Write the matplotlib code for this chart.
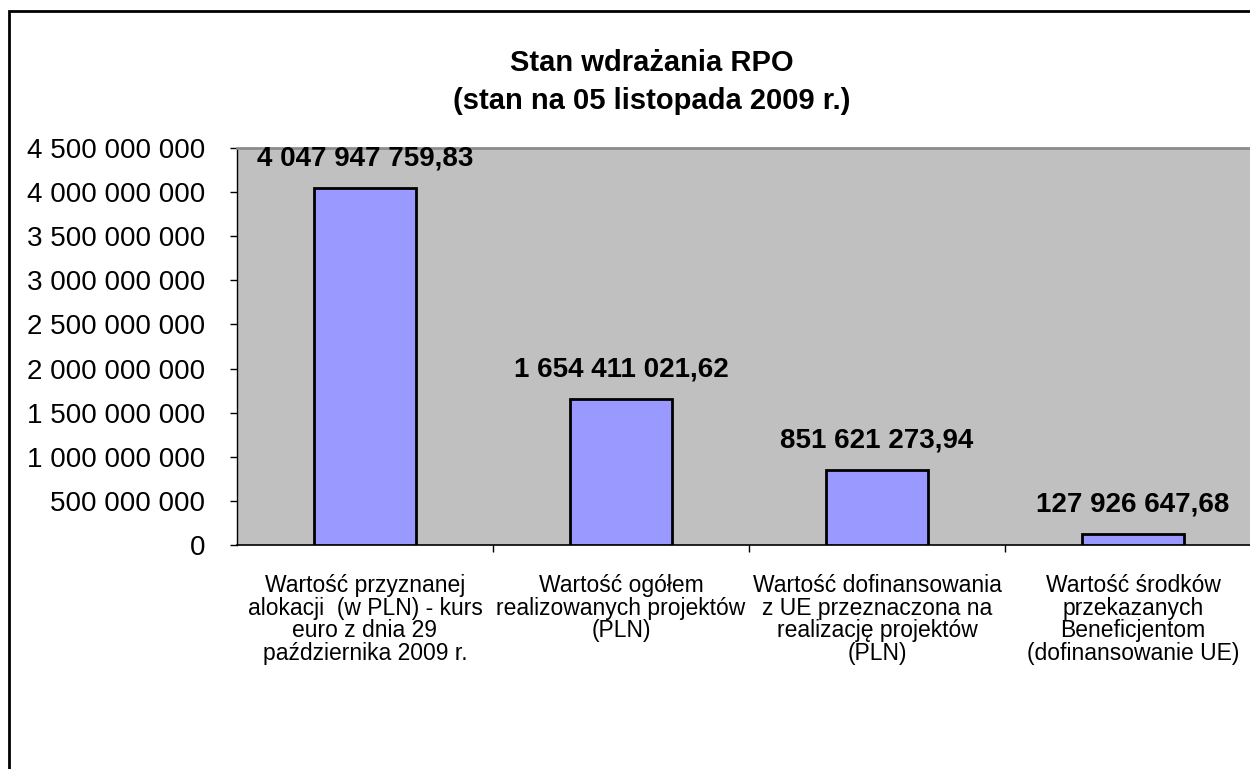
import matplotlib.pyplot as plt
from matplotlib.patches import Rectangle

plt.rcParams['font.family'] = ['Liberation Sans', 'DejaVu Sans']

# data
categories = ['Wartość przyznanej\nalokacji  (w PLN) - kurs\neuro z dnia 29\npaździernika 2009 r.',
              'Wartość ogółem\nrealizowanych projektów\n(PLN)',
              'Wartość dofinansowania\nz UE przeznaczona na\nrealizację projektów\n(PLN)',
              'Wartość środków\nprzekazanych\nBeneficjentom\n(dofinansowanie UE)']
values = [4047947759.83, 1654411021.62, 851621273.94, 127926647.68]
yticks = [0, 500000000, 1000000000, 1500000000, 2000000000, 2500000000,
          3000000000, 3500000000, 4000000000, 4500000000]
title_lines = ['Stan wdrażania RPO', '(stan na 05 listopada 2009 r.)']


def fmt_int(v):
    return '{:,}'.format(int(v)).replace(',', ' ')


def fmt_val(v):
    s = '{:,.2f}'.format(v)
    return s.replace(',', ' ').replace('.', ',')


W, H = 1250, 769
fig = plt.figure(figsize=(W / 100, H / 100), dpi=100)

# outer chart border
fig.patches.append(Rectangle((9 / W, -0.1), 1.2, 1 - 11 / H + 0.1, transform=fig.transFigure,
                             fill=False, edgecolor='black', linewidth=2))

ax = fig.add_axes([237 / W, 1 - 545 / H, 1024 / W, 397 / H])
ax.set_facecolor('#C0C0C0')

x = range(len(values))
ax.bar(x, values, width=0.4, color='#9999FF', edgecolor='black', linewidth=2, zorder=3)

for i, v in enumerate(values):
    ax.annotate(fmt_val(v), (i, v), xytext=(0, 21), textcoords='offset points',
                ha='center', va='center', fontsize=20, fontweight='bold')

ax.set_xlim(-0.5, 3.5)
ax.set_ylim(0, 4500000000)
ax.set_yticks(yticks)
ax.set_yticklabels([fmt_int(t) for t in yticks], fontsize=20)
ax.tick_params(axis='y', length=5, width=1, pad=18)

ax.set_xticks(list(x))
ax.set_xticklabels(categories, fontsize=16.5, linespacing=0.98)
ax.tick_params(axis='x', which='major', length=0, pad=21)
ax.set_xticks([0.5, 1.5, 2.5], minor=True)
ax.tick_params(axis='x', which='minor', length=5, width=1)

ax.spines['top'].set_color('#8C8C8C')
ax.spines['top'].set_linewidth(2)
ax.spines['right'].set_visible(False)
ax.spines['left'].set_linewidth(1)
ax.spines['bottom'].set_linewidth(1.2)

fig.text(652 / W, 1 - 63 / H, title_lines[0], ha='center', va='center',
         fontsize=21, fontweight='bold')
fig.text(652 / W, 1 - 101 / H, title_lines[1], ha='center', va='center',
         fontsize=21, fontweight='bold')

fig.savefig('out.png', dpi=100)
